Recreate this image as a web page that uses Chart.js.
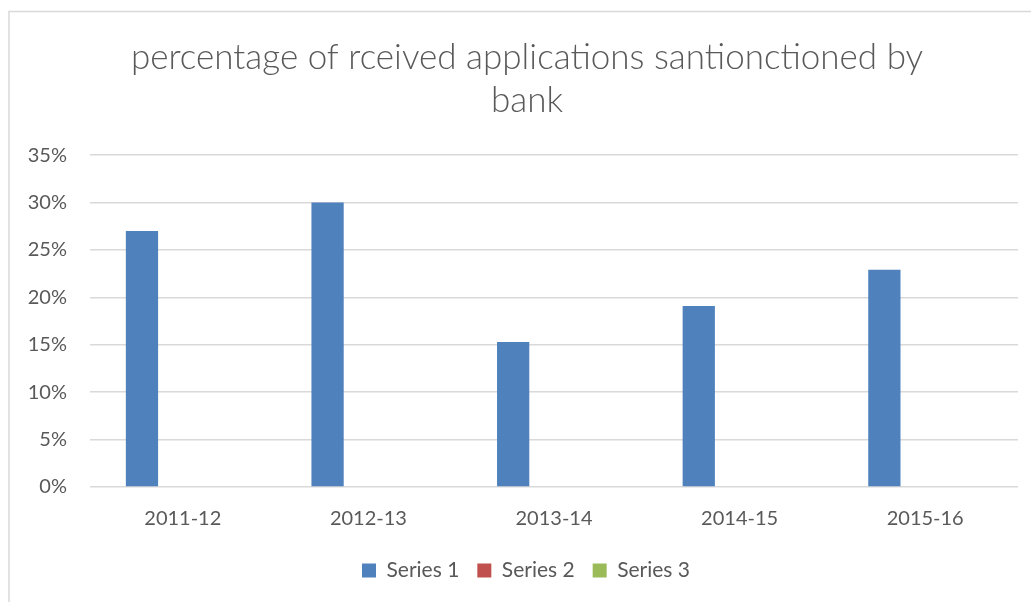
<!DOCTYPE html>
<html>
<head>
<meta charset="utf-8">
<script src="https://cdn.jsdelivr.net/npm/chart.js@4.4.0/dist/chart.umd.min.js"></script>
<style>
  html, body { margin: 0; padding: 0; background: #ffffff; }
  #wrap { position: absolute; left: 0; top: 0; width: 1031px; height: 602px; }
</style>
</head>
<body>
<div id="wrap"><canvas id="c" width="1031" height="602"></canvas></div>
<script>
const categories = ["2011-12", "2012-13", "2013-14", "2014-15", "2015-16"];
const series1 = [0.27, 0.30, 0.153, 0.191, 0.229];
const series2 = [null, null, null, null, null];
const series3 = [null, null, null, null, null];
const seriesNames = ["Series 1", "Series 2", "Series 3"];
const titleLines = ["percentage of rceived applications santionctioned by", "bank"];
const yTicks = [0, 0.05, 0.10, 0.15, 0.20, 0.25, 0.30, 0.35];

const textColor = "#595959";
const gridColor = "#d9d9d9";
const fontFamily = "Lato, 'Open Sans', 'Liberation Sans', sans-serif";

const framePlugin = {
  id: "frame",
  afterLayout(chart) {
    if (chart.titleBlock) {
      chart.titleBlock.left += 13;
      chart.titleBlock.right += 13;
    }
    if (chart.legend) {
      chart.legend.left += 12;
      chart.legend.right += 12;
    }
  },
  beforeDraw(chart) {
    const ctx = chart.ctx;
    ctx.save();
    ctx.fillStyle = "#ffffff";
    ctx.fillRect(0, 0, chart.width, chart.height);
    ctx.strokeStyle = gridColor;
    ctx.lineWidth = 1.5;
    ctx.beginPath();
    ctx.moveTo(9, chart.height);
    ctx.lineTo(9, 11.5);
    ctx.lineTo(chart.width, 11.5);
    ctx.stroke();
    ctx.restore();
  }
};

new Chart(document.getElementById("c"), {
  type: "bar",
  data: {
    labels: categories,
    datasets: [
      { label: seriesNames[0], data: series1, backgroundColor: "#4f81bd" },
      { label: seriesNames[1], data: series2, backgroundColor: "#c0504d" },
      { label: seriesNames[2], data: series3, backgroundColor: "#9bbb59" }
    ]
  },
  options: {
    responsive: false,
    animation: false,
    devicePixelRatio: 1,
    layout: { padding: { left: 10, right: 13, top: 0, bottom: 11 } },
    datasets: {
      bar: { categoryPercentage: 0.66, barPercentage: 0.79, borderWidth: 0 }
    },
    plugins: {
      title: {
        display: true,
        text: titleLines,
        color: textColor,
        font: { family: fontFamily, size: 35, weight: "300", lineHeight: 1.23 },
        padding: { top: 36, bottom: 33 }
      },
      legend: {
        position: "bottom",
        labels: {
          color: textColor,
          font: { family: fontFamily, size: 21 },
          boxWidth: 14,
          boxHeight: 14,
          padding: 18
        }
      },
      tooltip: { enabled: false }
    },
    scales: {
      x: {
        grid: { display: false },
        border: { display: false },
        ticks: { color: textColor, font: { family: fontFamily, size: 20 }, padding: 12, maxRotation: 0 },
        afterFit(scale) { scale.height = 55; }
      },
      y: {
        min: 0,
        max: 0.35,
        grid: { color: gridColor, lineWidth: 1.5, drawTicks: false },
        border: { display: false },
        afterBuildTicks(scale) { scale.ticks = yTicks.map(v => ({ value: v })); },
        ticks: {
          color: textColor,
          font: { family: fontFamily, size: 20 },
          padding: 23,
          callback: v => Math.round(v * 100) + "%"
        },
        afterFit(scale) { scale.width = 80; }
      }
    }
  },
  plugins: [framePlugin]
});
</script>
</body>
</html>
